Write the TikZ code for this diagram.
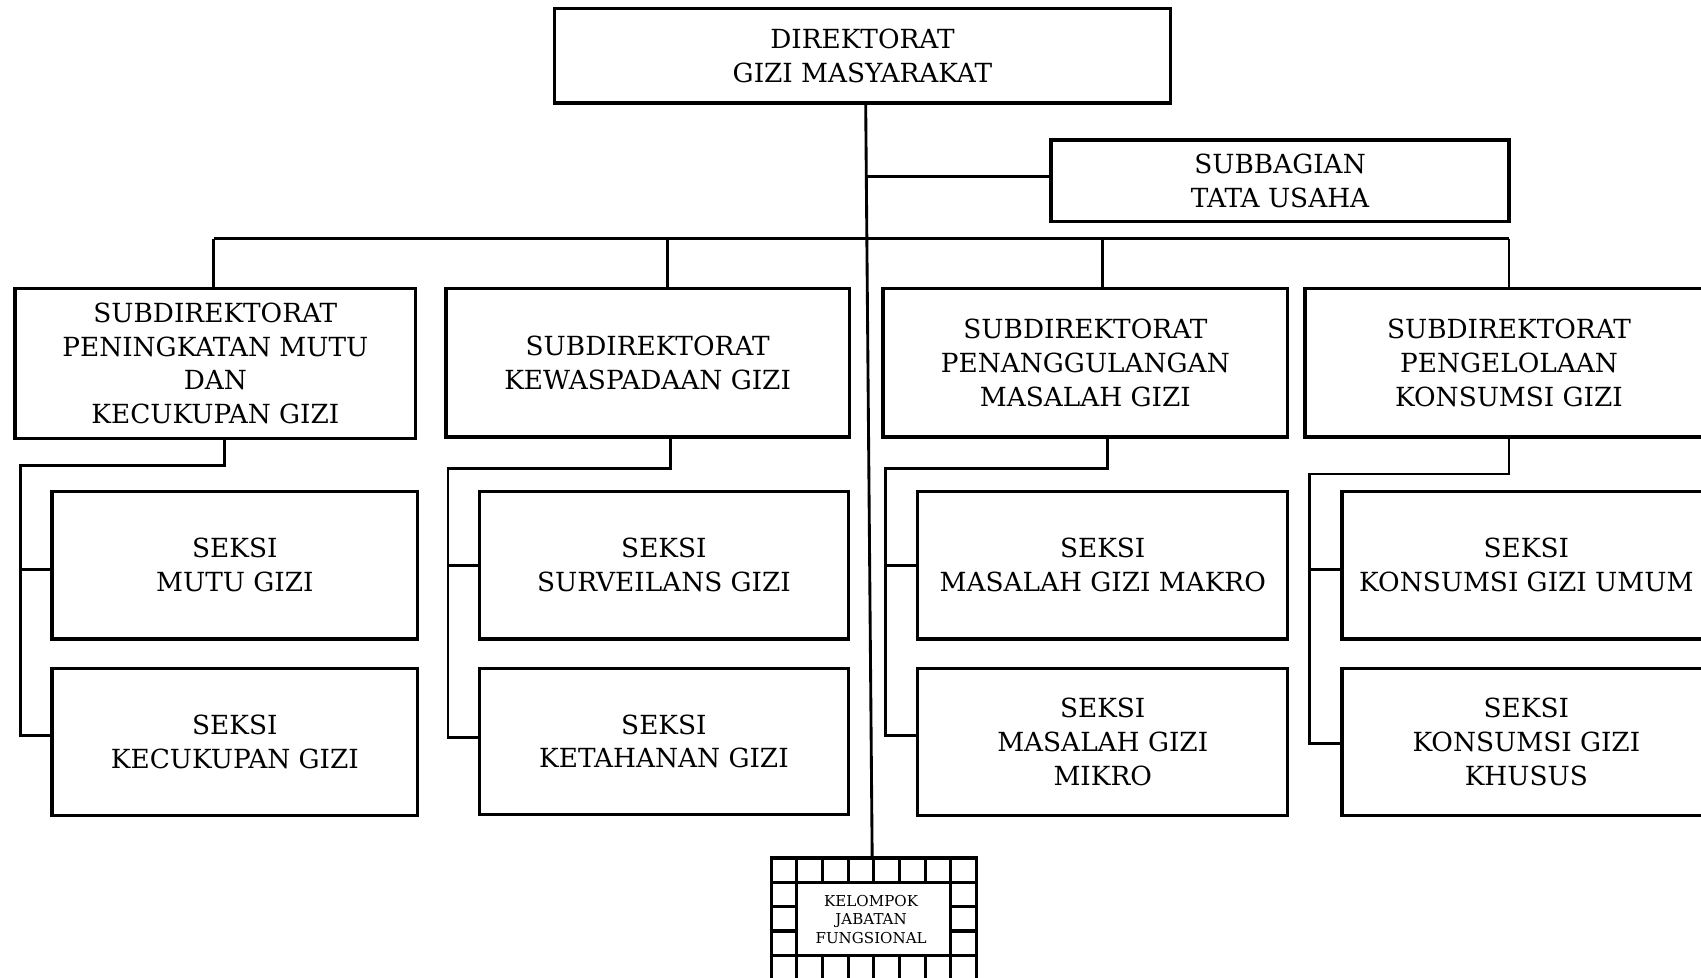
\documentclass[tikz,border=0pt]{standalone}
\usepackage{fontspec}
\newfontfamily\orgfont{DejaVu Serif}
\begin{document}
\begin{tikzpicture}[x=0.01cm,y=-0.01cm,
  box/.style={draw, line width=0.9pt, inner sep=0pt, align=center,
    font=\orgfont\fontsize{6.9}{8.82}\selectfont},
  wh/.style 2 args={minimum width=#1*0.01cm, minimum height=#2*0.01cm},
  link/.style={line width=0.75pt},
  cell/.style={line width=0.8pt},
  smalltext/.style={inner sep=0pt, align=center,
    font=\orgfont\fontsize{3.95}{4.9}\selectfont}]
\useasboundingbox (0,0) rectangle (1568,901);
\clip (0,0) rectangle (1568,901);
\fill[white] (0,0) rectangle (1568,901);

% directorate and administration office
\node[box, wh={568}{87}] (dir) at (795,51.5) {DIREKTORAT\\GIZI MASYARAKAT};
\node[box, wh={422}{75}] (sub) at (1180,166.5) {SUBBAGIAN\\TATA USAHA};

% sub-directorates
\node[box, wh={369}{138}] (s1) at (198.5,335) {SUBDIREKTORAT\\PENINGKATAN MUTU\\DAN\\KECUKUPAN GIZI};
\node[box, wh={372}{137}] (s2) at (597,334.5) {SUBDIREKTORAT\\KEWASPADAAN GIZI};
\node[box, wh={373}{137}] (s3) at (1000.5,334.5) {SUBDIREKTORAT\\PENANGGULANGAN\\MASALAH GIZI};
\node[box, wh={376}{137}] (s4) at (1391,334.5) {SUBDIREKTORAT\\PENGELOLAAN\\KONSUMSI GIZI};

% sections
\node[box, wh={337}{136}] (k11) at (216.5,521) {SEKSI\\MUTU GIZI};
\node[box, wh={337}{136}] (k12) at (216.5,684) {SEKSI\\KECUKUPAN GIZI};
\node[box, wh={340}{136}] (k21) at (612,521) {SEKSI\\SURVEILANS GIZI};
\node[box, wh={340}{135}] (k22) at (612,683.5) {SEKSI\\KETAHANAN GIZI};
\node[box, wh={341}{136}] (k31) at (1016.5,521) {SEKSI\\MASALAH GIZI MAKRO};
\node[box, wh={341}{136}] (k32) at (1016.5,684) {SEKSI\\MASALAH GIZI\\MIKRO};
\node[box, wh={340}{136}] (k41) at (1407,521) {SEKSI\\KONSUMSI GIZI UMUM};
\node[box, wh={340}{136}] (k42) at (1407,684) {SEKSI\\KONSUMSI GIZI\\KHUSUS};

% functional group: framed by a ring of square cells
\node[draw, line width=0.9pt, inner sep=0pt, wh={189}{115}] (kel) at (805.5,848.5) {};
\foreach \i in {1,...,7} {
  \draw[cell] ({711+\i*23.625},791) -- ({711+\i*23.625},813.4);
  \draw[cell] ({711+\i*23.625},880.6) -- ({711+\i*23.625},906);
}
\draw[cell] (711,813.4) -- (900,813.4);
\draw[cell] (711,880.6) -- (900,880.6);
\draw[cell] (734.625,813.4) -- (734.625,880.6);
\draw[cell] (876.375,813.4) -- (876.375,880.6);
\foreach \y in {835.8,858.2} {
  \draw[cell] (711,\y) -- (734.625,\y);
  \draw[cell] (876.375,\y) -- (900,\y);
}
\node[smalltext] (kelt) at (803,847.5) {KELOMPOK\\JABATAN\\FUNGSIONAL};

% main trunk
\coordinate (t0) at (798,95);
\coordinate (t1) at (799,163);
\coordinate (t2) at (799,220);
\coordinate (t3) at (804,791);
\draw[link] (t0) -- (t3);
\draw[link] (t1) -- (t1 -| sub.west);

% bus to the sub-directorates
\coordinate (d1) at (197,220);
\coordinate (d2) at (615,220);
\coordinate (d3) at (1016,220);
\coordinate (d4) at (1391,220);
\draw[link] (d1) -- (d4);
\draw[link] (d1) -- (d1 |- s1.north);
\draw[link] (d2) -- (d2 |- s2.north);
\draw[link] (d3) -- (d3 |- s3.north);
\draw[link] (d4) -- (d4 |- s4.north);

% branches down to the sections
\coordinate (e1) at (207,429);  \coordinate (r1) at (19,678);   \coordinate (q1) at (19,525);
\coordinate (e2) at (618,432);  \coordinate (r2) at (413,680);  \coordinate (q2) at (413,521);
\coordinate (e3) at (1021,432); \coordinate (r3) at (816,678);  \coordinate (q3) at (816,521);
\coordinate (e4) at (1391,437); \coordinate (r4) at (1207,685); \coordinate (q4) at (1207,525);
\draw[link] (s1.south -| e1) -- (e1) -| (r1) -- (r1 -| k12.west);
\draw[link] (q1) -- (q1 -| k11.west);
\draw[link] (s2.south -| e2) -- (e2) -| (r2) -- (r2 -| k22.west);
\draw[link] (q2) -- (q2 -| k21.west);
\draw[link] (s3.south -| e3) -- (e3) -| (r3) -- (r3 -| k32.west);
\draw[link] (q3) -- (q3 -| k31.west);
\draw[link] (s4.south -| e4) -- (e4) -| (r4) -- (r4 -| k42.west);
\draw[link] (q4) -- (q4 -| k41.west);
\end{tikzpicture}
\end{document}
